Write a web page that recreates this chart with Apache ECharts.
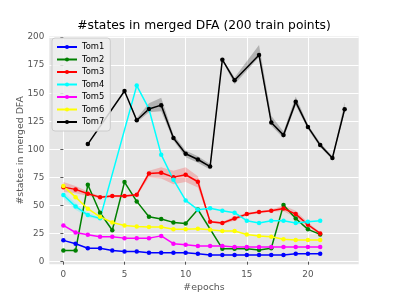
<!DOCTYPE html>
<html><head><meta charset="utf-8">
<script src="https://cdn.jsdelivr.net/npm/echarts@6/dist/echarts.min.js"></script>
<style>html,body{margin:0;padding:0;background:#fff}#c{width:399px;height:299px}</style>
</head><body><div id="c"></div>
<script>
const epochs = [0,1,2,3,4,5,6,7,8,9,10,11,12,13,14,15,16,17,18,19,20,21,22,23];
const seriesNames = ['Tom1','Tom2','Tom3','Tom4','Tom5','Tom6','Tom7'];
const tom1 = [19,16,12,12,10,9,9,8,8,8,8,7,6,6,6,6,6,6,6,7,7,7,null,null];
const tom2 = [10,10,68.5,43.6,28,70.9,53.7,40,38,35,34,46.5,null,11.6,11.6,11.6,10.4,12,50.4,38.5,28.8,24.3,null,null];
const tom3 = [66.4,64.4,60.5,57.5,58.4,58.4,59.6,78.6,79.2,75.3,77.4,71.2,35.6,34.4,38.5,42.4,44.2,45.4,47.4,42.4,32.9,25.2,null,null];
const tom4 = [59.3,49.2,41.5,38.6,null,null,156.8,136,95.3,73,54.6,46.3,47.5,45.4,43.6,36.5,34.4,36.5,36.5,34.4,35.6,36.5,null,null];
const tom5 = [32.3,26,24,22.2,22.2,21,21,21,23,16,15,14,14,14,13,13,13,13,13,13,13,13,null,null];
const tom6 = [67.3,57.5,47.2,40,35,32.3,31.4,31,31,29,29,29.4,28.5,27.3,27.3,24.3,23,22.2,20,19.3,19.3,19.3,null,null];
const tom7 = [null,null,104.7,null,null,152,126,135.9,139.4,110.2,96.1,91,84.7,179.9,161.5,null,184,124,112.7,142.3,120,103.8,92.3,135.8];

const tom3Lo = [62,61,58.5,56.5,57.4,57.4,58.6,75,74,69,71,66,34.6,33.4,36.5,41.4,43.2,44.4,45,39.4,30.9,24.2,null,null];
const tom3Hi = [71,67.4,62.5,58.5,59.4,59.4,60.6,81,84,81,84,76,36.6,35.4,40.5,43.4,45.2,46.4,50,45.4,34.9,26.2,null,null];
const tom4Lo = [56.3,46.2,39.5,37.6,null,null,null,null,null,null,null,null,null,null,null,null,null,null,null,null,null,null,null,null];
const tom4Hi = [62.3,52.2,43.5,39.6,null,null,null,null,null,null,null,null,null,null,null,null,null,null,null,null,null,null,null,null];
const tom7Lo = [null,null,104.7,null,null,152,124,133,134,108,93,88,82,179,158,null,182,121,110,139,118,102,91,133];
const tom7Hi = [null,null,104.7,null,null,152,128,141,146,113,99,94,87,181,164,null,193,130,116,147,122,106,94,142];

const xTicks = [0,5,10,15,20];
const yTicks = [0,25,50,75,100,125,150,175,200];

const colors = ['#0000ff','#008000','#ff0000','#00ffff','#ff00ff','#ffff00','#000000'];
const values = [tom1,tom2,tom3,tom4,tom5,tom6,tom7];
const FONT = 'DejaVu Sans';

function pairs(vals){ const out=[]; epochs.forEach((x,i)=>{ if(vals[i]!=null) out.push([x, vals[i]]); }); return out; }
function band(lo, hi, fill){
  const pts=[]; epochs.forEach((x,i)=>{ if(lo[i]!=null) pts.push([x, lo[i], hi[i]]); });
  return {
    type:'custom', silent:true, z:1, data:pts, encode:{x:0,y:[1,2]},
    renderItem:function(params, api){
      if(params.dataIndex!==0) return null;
      const top=pts.map(p=>api.coord([p[0],p[2]]));
      const bot=pts.map(p=>api.coord([p[0],p[1]])).reverse();
      return {type:'polygon', shape:{points:top.concat(bot)}, style:{fill:fill}};
    }
  };
}

const series = [
  band(tom3Lo, tom3Hi, 'rgba(255,0,0,0.2)'),
  band(tom4Lo, tom4Hi, 'rgba(0,255,255,0.2)'),
  band(tom7Lo, tom7Hi, 'rgba(0,0,0,0.22)')
];
seriesNames.forEach((n,i)=>{
  series.push({
    name:n, type:'line', z:3, data:pairs(values[i]), symbol:'circle', symbolSize:4.5,
    itemStyle:{color:colors[i]}, lineStyle:{color:colors[i], width:1.5}, animation:false
  });
});

const chart = echarts.init(document.getElementById('c'), null, {renderer:'canvas'});
chart.setOption({
  animation:false,
  backgroundColor:'#ffffff',
  textStyle:{fontFamily:FONT},
  title:{text:'#states in merged DFA (200 train points)', left:199, top:15, textAlign:'center',
    textStyle:{fontFamily:FONT, fontSize:12.3, fontWeight:'normal', color:'#000'}},
  grid:{left:49.3, right:40.3, top:36.5, bottom:34.7, backgroundColor:'#e5e5e5', show:true, borderWidth:0, outerBoundsMode:'none'},
  legend:{data:seriesNames, orient:'vertical', left:52, top:38, itemWidth:20, itemHeight:5, itemGap:2.5,
    padding:[4,6,4,4], backgroundColor:'rgba(238,238,238,0.85)', borderColor:'#cccccc', borderWidth:1, borderRadius:3,
    textStyle:{fontFamily:FONT, fontSize:8.4, lineHeight:10, color:'#000'}},
  xAxis:{type:'value', min:-1.15, max:24.15,
    name:'#epochs', nameLocation:'middle', nameGap:18.5, nameMoveOverlap:false, nameTextStyle:{fontFamily:FONT, fontSize:9.4, color:'#555'},
    axisLine:{show:false},
    axisTick:{show:true, customValues:xTicks, length:3, lineStyle:{color:'#555'}},
    axisLabel:{customValues:xTicks, color:'#555', fontFamily:FONT, fontSize:8.8, margin:6},
    splitLine:{show:true, lineStyle:{color:'#ffffff', width:1}}},
  yAxis:{type:'value', min:-2.3, max:200.5,
    name:'#states in merged DFA', nameLocation:'middle', nameGap:24, nameMoveOverlap:false, nameTextStyle:{fontFamily:FONT, fontSize:9.4, color:'#555'},
    axisLine:{show:false},
    axisTick:{show:true, customValues:yTicks, length:3, lineStyle:{color:'#555'}},
    axisLabel:{customValues:yTicks, color:'#555', fontFamily:FONT, fontSize:8.8, margin:5},
    splitLine:{show:true, lineStyle:{color:'#ffffff', width:1}}},
  series:series
});
</script></body></html>
